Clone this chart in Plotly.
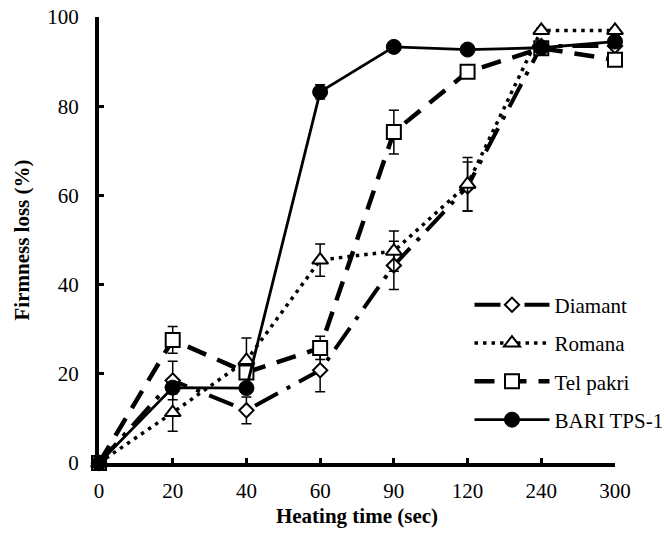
import plotly.graph_objects as go

categories = ["0", "20", "40", "60", "90", "120", "240", "300"]

diamant = [0, 18.5, 11.8, 20.8, 44.3, 62.0, 93.5, 93.5]
diamant_err = [0, 4.3, 3.0, 4.8, 5.4, 5.5, 0.8, 0.8]

romana = [0, 11.3, 23.0, 45.5, 47.5, 62.5, 97.0, 97.0]
romana_err = [0, 4.2, 5.0, 3.6, 4.5, 6.0, 0.5, 0.5]

tel_pakri = [0, 27.6, 20.3, 25.8, 74.2, 87.7, 93.0, 90.4]
tel_pakri_err = [0, 3.0, 1.0, 2.6, 4.9, 1.0, 1.0, 1.0]

bari = [0, 16.9, 16.8, 83.2, 93.3, 92.7, 93.1, 94.5]
bari_err = [0, 0.8, 0.8, 1.6, 0.8, 0.8, 0.8, 0.8]

FONT = "Liberation Serif"
FS = 21

series = [
    ("Diamant", diamant, diamant_err, dict(width=4, dash="26px,10px,4px,10px"),
     dict(symbol="diamond", size=11, color="white", line=dict(color="black", width=2))),
    ("Romana", romana, romana_err, dict(width=3.5, dash="3.5px,5px"),
     dict(symbol="triangle-up", size=14, color="white", line=dict(color="black", width=2))),
    ("Tel pakri", tel_pakri, tel_pakri_err, dict(width=4.5, dash="20px,12px"),
     dict(symbol="square", size=14, color="white", line=dict(color="black", width=2))),
    ("BARI TPS-1", bari, bari_err, dict(width=2.8, dash="solid"),
     dict(symbol="circle", size=15, color="black", line=dict(color="black", width=1))),
]

fig = go.Figure()
for i, (name, vals, errs, line, marker) in enumerate(series):
    fig.add_trace(go.Scatter(
        x=categories, y=vals, name=name, mode="lines+markers",
        line=dict(color="black", **line), marker=marker,
        error_y=dict(type="data", array=errs, visible=True, color="black",
                     thickness=1.5, width=5),
        cliponaxis=False, legendgroup=f"g{i}",
    ))

fig.update_layout(
    width=664, height=533,
    margin=dict(l=99, r=49, t=17, b=70, autoexpand=False),
    paper_bgcolor="white", plot_bgcolor="white",
    font=dict(family=FONT, size=FS, color="black"),
    showlegend=True,
    legend=dict(x=0.718, y=0.40, xanchor="left", yanchor="top",
                bgcolor="rgba(0,0,0,0)", traceorder="grouped", tracegroupgap=8,
                itemwidth=75, font=dict(family=FONT, size=FS, color="black")),
)
fig.update_xaxes(
    type="category", range=[0, 7],
    showline=True, linecolor="black", linewidth=4,
    ticks="inside", ticklen=5, tickwidth=3, tickcolor="black",
    showgrid=False, zeroline=False, ticklabelstandoff=6, ticklabeloverflow="allow",
    tickfont=dict(family=FONT, size=FS, color="black"),
    title=dict(text="Heating time (sec)", font=dict(family=FONT, size=FS, weight="bold"), standoff=7),
)
fig.update_yaxes(
    range=[0, 100], dtick=20,
    showline=True, linecolor="black", linewidth=4,
    ticks="inside", ticklen=5, tickwidth=3, tickcolor="black",
    showgrid=False, zeroline=False, ticklabelstandoff=12, ticklabeloverflow="allow",
    tickfont=dict(family=FONT, size=FS, color="black"),
    title=dict(text="Firmness loss (%)", font=dict(family=FONT, size=FS, weight="bold"), standoff=13),
)

fig.write_html("out.html", config={"displayModeBar": False},
               post_script="document.body.style.margin='0';")
